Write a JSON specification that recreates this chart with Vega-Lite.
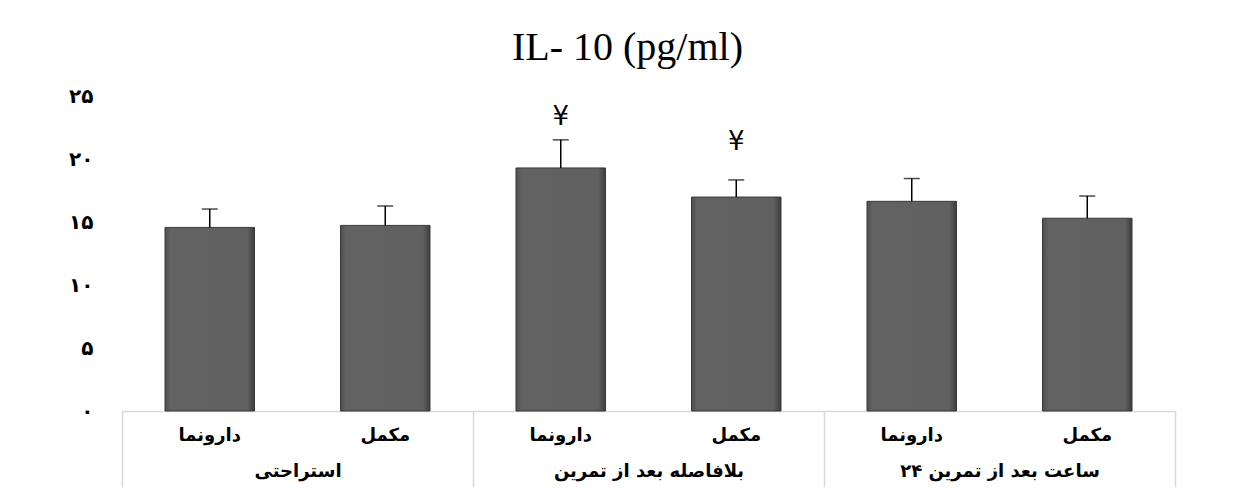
{
  "$schema": "https://vega.github.io/schema/vega-lite/v6.json",
  "autosize": "none",
  "width": 1053,
  "height": 315,
  "padding": {"left": 122, "top": 96, "right": 71, "bottom": 84},
  "background": "white",
  "config": {"view": {"stroke": null}},
  "title": {
    "text": "IL- 10 (pg/ml)",
    "font": "Liberation Serif",
    "fontSize": 40,
    "fontWeight": "normal",
    "color": "black",
    "anchor": "middle",
    "offset": 18,
    "dx": -21
  },
  "data": {
    "values": [
      {"id": "1", "group": "استراحتی", "sub": "دارونما", "mean": 14.57, "upper": 16.03, "sig": "", "sig_at": null},
      {"id": "2", "group": "استراحتی", "sub": "مکمل", "mean": 14.73, "upper": 16.27, "sig": "", "sig_at": null},
      {"id": "3", "group": "بلافاصله بعد از تمرین", "sub": "دارونما", "mean": 19.29, "upper": 21.52, "sig": "¥", "sig_at": 23.35},
      {"id": "4", "group": "بلافاصله بعد از تمرین", "sub": "مکمل", "mean": 16.98, "upper": 18.34, "sig": "¥", "sig_at": 21.36},
      {"id": "5", "group": "۲۴ ساعت بعد از تمرین", "sub": "دارونما", "mean": 16.64, "upper": 18.45, "sig": "", "sig_at": null},
      {"id": "6", "group": "۲۴ ساعت بعد از تمرین", "sub": "مکمل", "mean": 15.30, "upper": 17.06, "sig": "", "sig_at": null}
    ]
  },
  "layer": [
    {
      "encoding": {
        "x": {
          "field": "id",
          "type": "nominal",
          "sort": null,
          "scale": {"paddingInner": 0.49, "paddingOuter": 0.245},
          "axis": {
            "orient": "bottom",
            "title": null,
            "domain": false,
            "ticks": false,
            "labelAngle": 0,
            "labelPadding": 15,
            "labelLimit": 0,
            "labelFont": "DejaVu Sans",
            "labelFontWeight": "bold",
            "labelFontSize": 18,
            "labelColor": "black",
            "labelExpr": "toNumber(datum.value) % 2 == 1 ? 'دارونما' : 'مکمل'"
          }
        }
      },
      "layer": [
        {
          "mark": {
            "type": "bar",
            "stroke": "#3a3a3a",
            "strokeWidth": 1,
            "fill": {
              "gradient": "linear",
              "x1": 0, "y1": 0, "x2": 1, "y2": 0,
              "stops": [
                {"offset": 0, "color": "#4e4e4e"},
                {"offset": 0.06, "color": "#626262"},
                {"offset": 0.92, "color": "#606060"},
                {"offset": 1, "color": "#3c3c3c"}
              ]
            }
          },
          "encoding": {
            "y": {
              "field": "mean",
              "type": "quantitative",
              "scale": {"domain": [0, 25], "nice": false},
              "axis": {
                "title": null,
                "domain": false,
                "ticks": false,
                "grid": false,
                "values": [0, 5, 10, 15, 20, 25],
                "labelPadding": 29,
                "labelFont": "DejaVu Sans",
                "labelFontWeight": "bold",
                "labelFontSize": 20,
                "labelColor": "black",
                "labelExpr": "['۰','۵','۱۰','۱۵','۲۰','۲۵'][datum.value / 5]"
              }
            }
          }
        },
        {
          "mark": {"type": "rule", "color": "black", "strokeWidth": 1.5},
          "encoding": {
            "y": {"field": "mean", "type": "quantitative"},
            "y2": {"field": "upper"}
          }
        },
        {
          "mark": {"type": "tick", "color": "black", "size": 16, "thickness": 1.5},
          "encoding": {
            "y": {"field": "upper", "type": "quantitative"}
          }
        },
        {
          "transform": [{"filter": "datum.sig_at != null"}],
          "mark": {"type": "text", "fontSize": 26, "font": "DejaVu Sans", "color": "black", "baseline": "middle"},
          "encoding": {
            "y": {"field": "sig_at", "type": "quantitative"},
            "text": {"field": "sig"}
          }
        }
      ]
    },
    {
      "mark": {"type": "point", "opacity": 0},
      "encoding": {
        "x": {
          "field": "group",
          "type": "nominal",
          "sort": null,
          "scale": {"paddingInner": 0, "paddingOuter": 0},
          "axis": {
            "orient": "bottom",
            "title": null,
            "domain": true,
            "domainColor": "#d9d9d9",
            "domainWidth": 1.5,
            "ticks": true,
            "tickBand": "extent",
            "tickColor": "#d9d9d9",
            "tickWidth": 1.5,
            "tickSize": 76,
            "labelAngle": 0,
            "labelPadding": -25,
            "labelLimit": 0,
            "labelFont": "DejaVu Sans",
            "labelFontWeight": "bold",
            "labelFontSize": 18,
            "labelColor": "black"
          }
        },
        "y": {"field": "mean", "type": "quantitative"}
      }
    }
  ],
  "resolve": {"scale": {"x": "independent"}, "axis": {"x": "independent"}}
}
